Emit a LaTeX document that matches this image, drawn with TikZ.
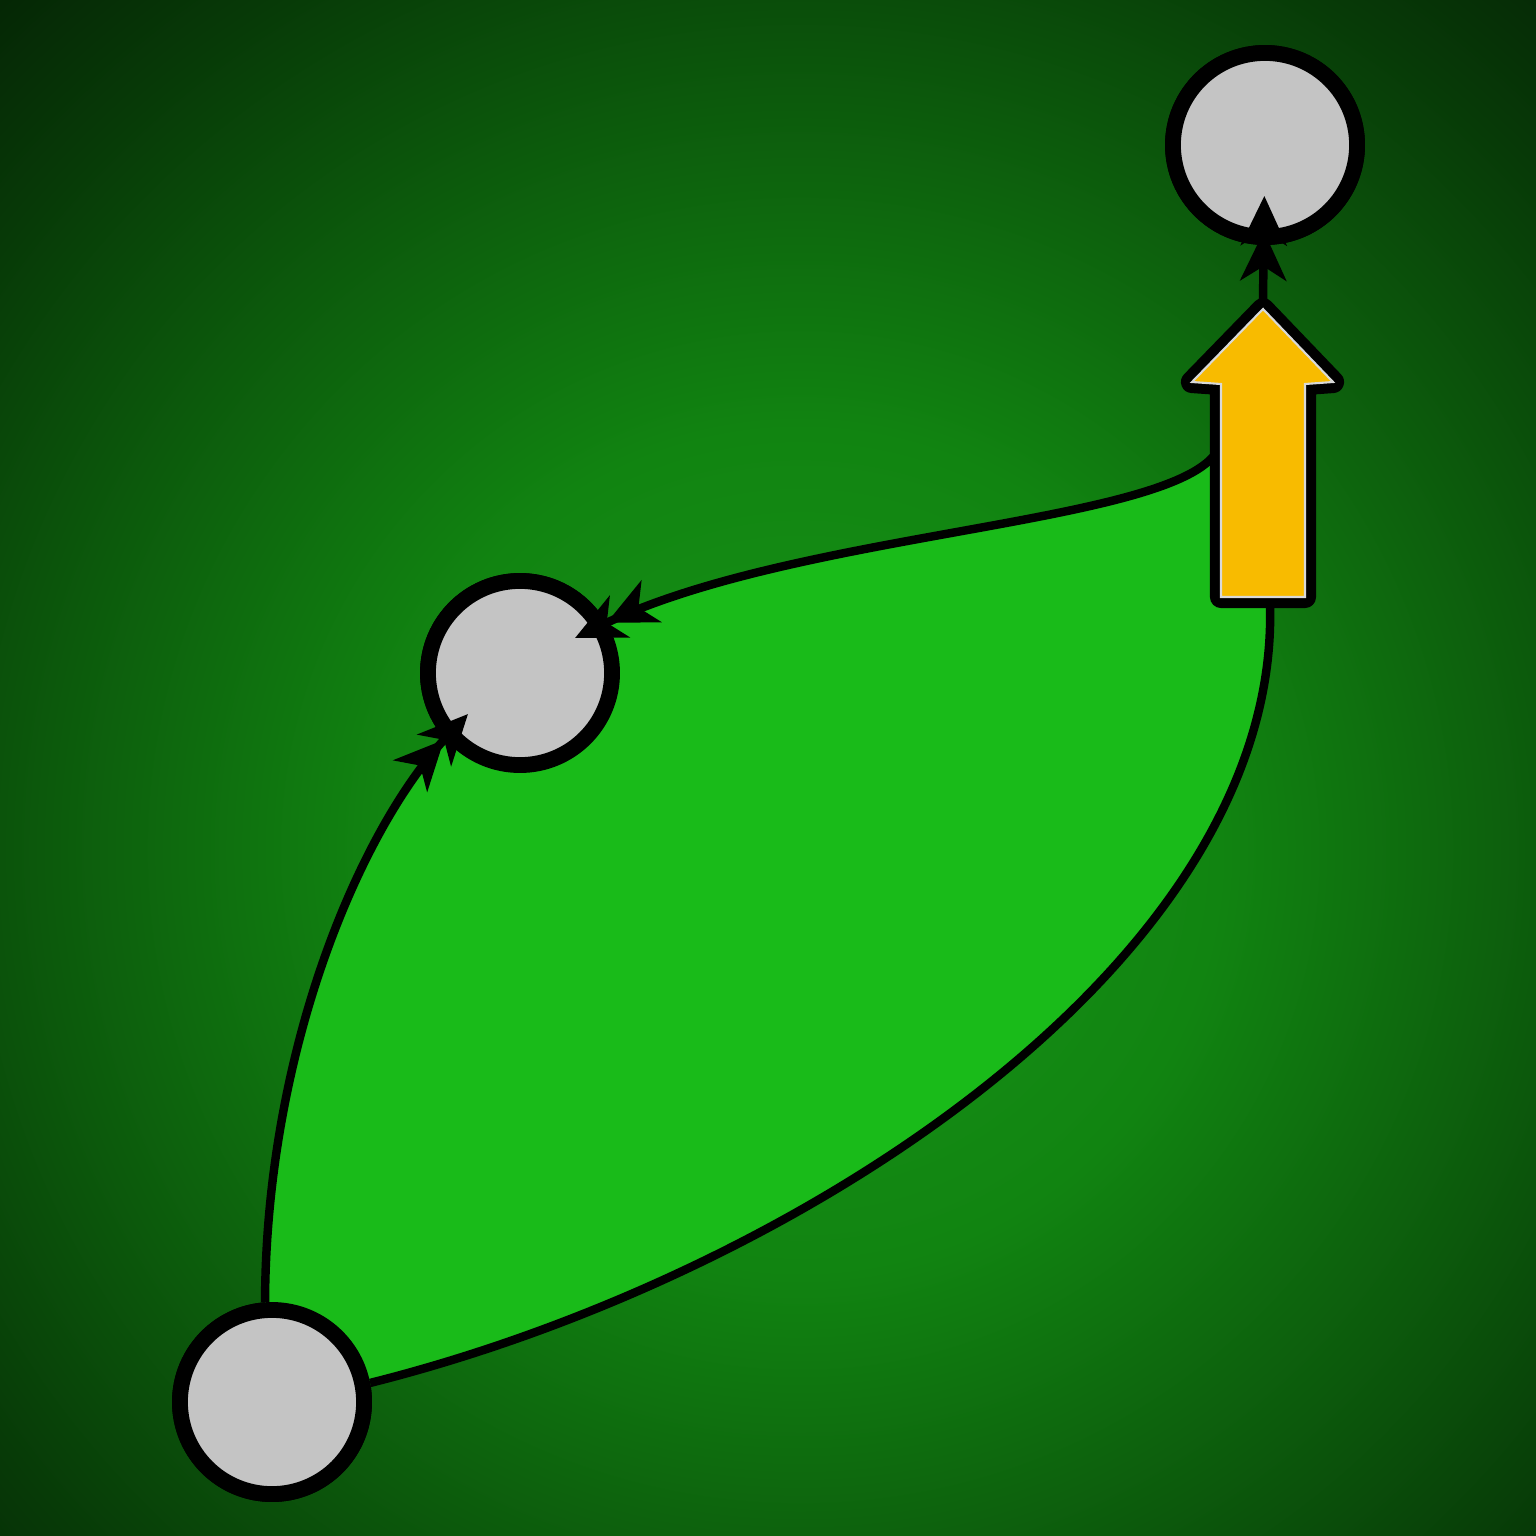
\documentclass[tikz,border=0pt]{standalone}
\usetikzlibrary{arrows.meta}
\definecolor{leaf}{RGB}{25,187,25}
\definecolor{discgrey}{RGB}{196,196,196}
\definecolor{amber}{RGB}{248,187,0}
\definecolor{bgA}{RGB}{24,150,24}
\definecolor{bgB}{RGB}{17,132,17}
\definecolor{bgC}{RGB}{12,90,12}
\definecolor{bgD}{RGB}{7,58,7}
\definecolor{bgE}{RGB}{5,38,5}
\pgfdeclareradialshading{bgshade}{\pgfpoint{0bp}{0bp}}{color(0bp)=(bgA); color(119bp)=(bgB); color(213bp)=(bgC); color(283bp)=(bgD); color(332bp)=(bgE)}
\begin{document}
\begin{tikzpicture}[x=0.01cm,y=-0.01cm,
  disc/.style={circle, draw=black, fill=discgrey, line width=4.5pt, minimum size=1.84cm, inner sep=0pt},
  conn/.style={line width=2.4pt, black},
  twotips/.style={-{Stealth[length=14pt,width=13pt,inset=4pt,sep=-4pt]Stealth[length=14pt,width=13pt,inset=4pt]}}
]
\useasboundingbox (0,0) rectangle (1536,1536);
\begin{scope}
  \clip (0,0) rectangle (1536,1536);
  \node[inner sep=0pt, outer sep=0pt] (bg) at (800,850) {\pgfuseshading{bgshade}};
\end{scope}

% nodes
\node[disc] (top) at (1265,145) {};
\node[disc] (mid) at (520,673) {};
\node[disc] (bot) at (272,1402) {};

% coordinates of the block arrow and connector ends
\coordinate (arrtip) at (1263,300);
\coordinate (arrW) at (1218,450);
\coordinate (arrbot) at (1270,605);
\coordinate (midA) at (468,714);
\coordinate (midB) at (575,638);

% leaf fill
\fill[leaf] (bot.center) -- (bot.94) .. controls (266,1050) and (360,830) .. (midA)
  -- (mid.center) -- (midB) .. controls (800,530) and (1175,525) .. (arrW)
  -- (1263,450) -- (arrbot) .. controls (1280,960) and (800,1275) .. (bot.11) -- cycle;

% redraw circles over the fill
\node[disc] at (top) {};
\node[disc] at (mid) {};
\node[disc] at (bot) {};

% connectors
\draw[conn, twotips] (bot.94) .. controls (266,1050) and (360,830) .. (midA);
\draw[conn, twotips] (arrW) .. controls (1175,525) and (800,530) .. (midB);
\draw[conn] (bot.11) .. controls (800,1275) and (1280,960) .. (arrbot);

% block arrow
\draw[black, line width=6.3pt, line join=round]
  (1263,309) -- (1333,382) -- (1305,384) -- (1305,597) -- (1221,597) -- (1221,384) -- (1192,382) -- cycle;
\fill[amber, draw=black!15, line width=0.6pt]
  (1263,309) -- (1333,382) -- (1305,384) -- (1305,597) -- (1221,597) -- (1221,384) -- (1192,382) -- cycle;

% connector to top circle
\draw[conn, twotips, shorten >=-0.49cm] (arrtip) -- (top);
\end{tikzpicture}
\end{document}
